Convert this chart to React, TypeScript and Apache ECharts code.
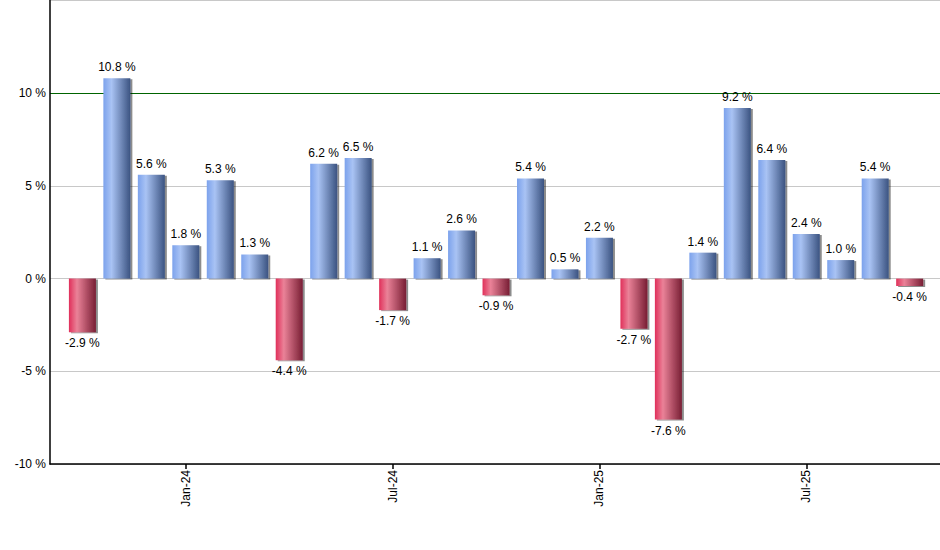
import React, { useEffect, useRef } from "react";
import * as echarts from "echarts";

const months = [
  "Oct-23", "Nov-23", "Dec-23", "Jan-24", "Feb-24", "Mar-24", "Apr-24", "May-24", "Jun-24",
  "Jul-24", "Aug-24", "Sep-24", "Oct-24", "Nov-24", "Dec-24", "Jan-25", "Feb-25", "Mar-25",
  "Apr-25", "May-25", "Jun-25", "Jul-25", "Aug-25", "Sep-25", "Oct-25",
];
const returns = [
  -2.9, 10.8, 5.6, 1.8, 5.3, 1.3, -4.4, 6.2, 6.5, -1.7, 1.1, 2.6, -0.9, 5.4, 0.5, 2.2, -2.7,
  -7.6, 1.4, 9.2, 6.4, 2.4, 1.0, 5.4, -0.4,
];
const labelIndices = [3, 9, 15, 21];
const yTicks = [-10, -5, 0, 5, 10, 15];

const blueGrad = new echarts.graphic.LinearGradient(0, 0, 1, 0, [
  { offset: 0, color: "#7ca2ec" },
  { offset: 0.3, color: "#a9c3f4" },
  { offset: 1, color: "#3b5381" },
]);
const redGrad = new echarts.graphic.LinearGradient(0, 0, 1, 0, [
  { offset: 0, color: "#e0305a" },
  { offset: 0.3, color: "#ea8298" },
  { offset: 1, color: "#781e34" },
]);

export default function App() {
  const ref = useRef<HTMLDivElement>(null);
  useEffect(() => {
    if (!ref.current) return;
    const chart = echarts.init(ref.current, null, { renderer: "svg" });
    const font = "'Liberation Sans', Arial, sans-serif";
    chart.setOption({
      animation: false,
      grid: { left: 50, right: 0, top: 0.5, bottom: 86, containLabel: false },
      xAxis: {
        type: "value",
        min: -0.94,
        max: 24.88,
        axisLine: { onZero: false, lineStyle: { color: "#000", width: 1.5 } },
        splitLine: { show: false },
        axisTick: {
          show: true,
          customValues: labelIndices,
          length: 5,
          lineStyle: { color: "#000", width: 1.5 },
        },
        axisLabel: {
          customValues: labelIndices,
          rotate: 90,
          color: "#000",
          fontSize: 12,
          fontFamily: font,
          margin: 6,
          formatter: (v: number) => months[Math.round(v)] ?? "",
        },
      },
      yAxis: {
        type: "value",
        min: -10,
        max: 15,
        interval: 5,
        axisLine: { show: true, onZero: false, lineStyle: { color: "#000", width: 1.5 } },
        axisTick: { show: false },
        splitLine: {
          show: true,
          lineStyle: {
            color: yTicks.map((t) => (t === 10 ? "#006400" : "#c8c8c8")),
            width: 1,
          },
        },
        axisLabel: {
          color: "#000",
          fontSize: 12,
          fontFamily: font,
          margin: 4,
          formatter: (v: number) => (v === 15 ? "" : `${v} %`),
        },
      },
      series: [
        {
          type: "bar",
          barWidth: 27,
          data: returns.map((v, i) => ({
            value: [i, v],
            itemStyle: {
              color: v >= 0 ? blueGrad : redGrad,
              shadowColor: "rgba(0,0,0,0.45)",
              shadowOffsetX: 2,
              shadowOffsetY: 1,
              shadowBlur: 1,
            },
            label: {
              show: true,
              position: v >= 0 ? "top" : "bottom",
              distance: 5,
              color: "#000",
              fontSize: 12,
              fontFamily: font,
              formatter: `${v.toFixed(1)} %`,
            },
          })),
        },
      ],
    });
    return () => chart.dispose();
  }, []);
  return (
    <div
      ref={ref}
      style={{ position: "fixed", left: 0, top: 0, width: 940, height: 550, background: "#fff" }}
    />
  );
}
